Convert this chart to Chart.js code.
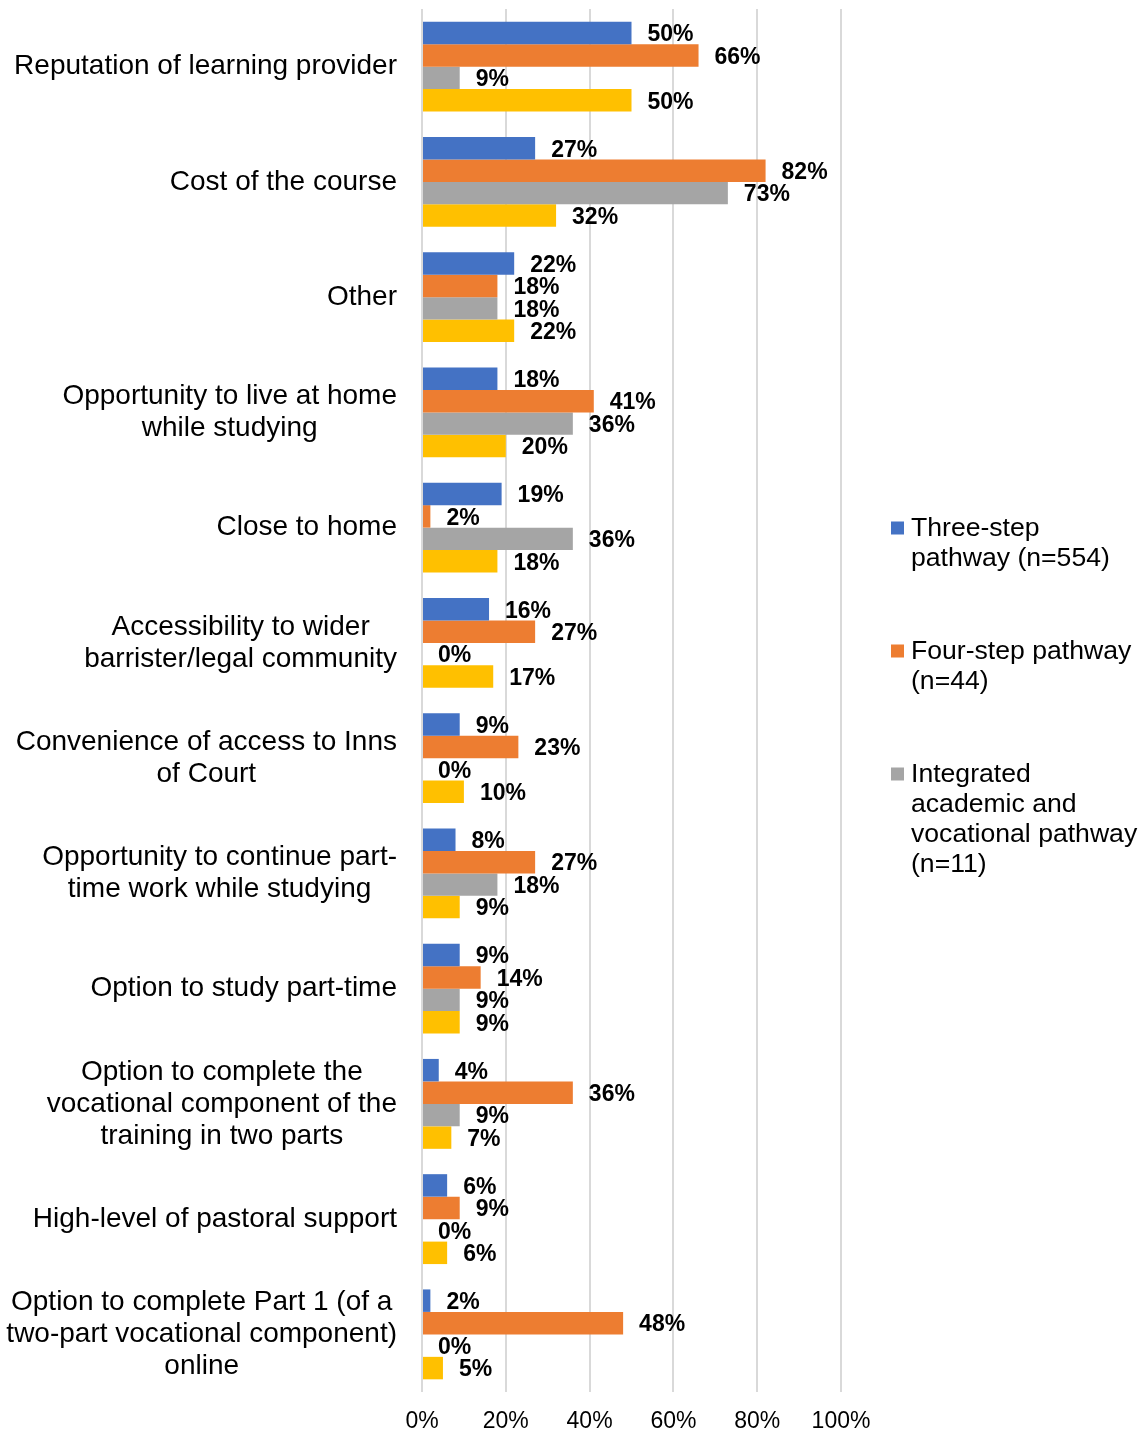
<!DOCTYPE html>
<html>
<head>
<meta charset="utf-8">
<script src="https://cdn.jsdelivr.net/npm/chart.js@4.4.1/dist/chart.umd.min.js"></script>
<style>
  html, body { margin: 0; padding: 0; background: #fff; }
  #wrap { width: 1141px; height: 1432px; position: relative; }
</style>
</head>
<body>
<div id="wrap"><canvas id="chart"></canvas></div>
<script>
const categories = [
    ['Reputation of learning provider'],
    ['Cost of the course'],
    ['Other'],
    ['Opportunity to live at home', 'while studying'],
    ['Close to home'],
    ['Accessibility to wider', 'barrister/legal community'],
    ['Convenience of access to Inns', 'of Court'],
    ['Opportunity to continue part-', 'time work while studying'],
    ['Option to study part-time'],
    ['Option to complete the', 'vocational component of the', 'training in two parts'],
    ['High-level of pastoral support'],
    ['Option to complete Part 1 (of a', 'two-part vocational component)', 'online']
];

const threeStep  = [50, 27, 22, 18, 19, 16, 9, 8, 9, 4, 6, 2];
const fourStep   = [66, 82, 18, 41, 2, 27, 23, 27, 14, 36, 9, 48];
const integrated = [9, 73, 18, 36, 36, 0, 0, 18, 9, 9, 0, 0];
const total      = [50, 32, 22, 20, 18, 17, 10, 9, 9, 7, 6, 5];

const seriesNames = [
    ['Three-step', 'pathway (n=554)'],
    ['Four-step pathway', '(n=44)'],
    ['Integrated', 'academic and', 'vocational pathway', '(n=11)'],
    ['Total']
];
const seriesColors = ['#4472C4', '#ED7D31', '#A5A5A5', '#FFC000'];
const inLegend = [true, true, true, false];

const xTicks = [0, 20, 40, 60, 80, 100];

const FONT = '"Liberation Sans", Arial, sans-serif';

// category labels: block right-aligned against the axis, lines centred within block
const categoryLabels = {
    id: 'categoryLabels',
    afterDraw(chart) {
        const ctx = chart.ctx;
        const y = chart.scales.y;
        const right = chart.chartArea.left - 25;
        const lh = 32;
        ctx.save();
        ctx.font = '28px ' + FONT;
        ctx.fillStyle = '#000';
        ctx.textAlign = 'center';
        ctx.textBaseline = 'middle';
        categories.forEach((lines, i) => {
            const w = Math.max(...lines.map(l => ctx.measureText(l).width));
            const cx = right - w / 2;
            const cy = y.getPixelForValue(i);
            const top = cy - (lines.length - 1) * lh / 2;
            lines.forEach((l, k) => ctx.fillText(l, cx, top + k * lh));
        });
        ctx.restore();
    }
};

// bold value labels at bar ends
const valueLabels = {
    id: 'valueLabels',
    afterDatasetsDraw(chart) {
        const ctx = chart.ctx;
        ctx.save();
        ctx.font = 'bold 23px ' + FONT;
        ctx.fillStyle = '#000';
        ctx.textAlign = 'left';
        ctx.textBaseline = 'middle';
        chart.data.datasets.forEach((ds, di) => {
            chart.getDatasetMeta(di).data.forEach((bar, i) => {
                ctx.fillText(ds.data[i] + '%', bar.x + 16, bar.y + 2);
            });
        });
        ctx.restore();
    }
};

// legend with wrapped names at the right
const sideLegend = {
    id: 'sideLegend',
    afterDraw(chart) {
        const ctx = chart.ctx;
        const area = chart.chartArea;
        const lh = 30, gap = 63;
        const x = 891;
        let y = (area.top + area.bottom) / 2 - 172;
        ctx.save();
        ctx.font = '26.6px ' + FONT;
        ctx.textAlign = 'left';
        ctx.textBaseline = 'middle';
        chart.data.datasets.forEach((ds, i) => {
            if (!inLegend[i]) return;
            ctx.fillStyle = ds.backgroundColor;
            ctx.fillRect(x, y - 7, 13, 13);
            ctx.fillStyle = '#000';
            seriesNames[i].forEach((l, k) => ctx.fillText(l, x + 20, y + k * lh));
            y += seriesNames[i].length * lh + gap;
        });
        ctx.restore();
    }
};

const datasets = [threeStep, fourStep, integrated, total].map((d, i) => ({
    label: seriesNames[i].join(' '),
    data: d,
    backgroundColor: seriesColors[i],
    borderWidth: 0,
    barPercentage: 1,
    categoryPercentage: 0.78
}));

new Chart(document.getElementById('chart'), {
    type: 'bar',
    data: {
        labels: categories.map(c => c.join(' ')),
        datasets: datasets
    },
    options: {
        indexAxis: 'y',
        responsive: true,
        maintainAspectRatio: false,
        animation: false,
        layout: { padding: { top: 9, right: 300, bottom: 0, left: 0 } },
        scales: {
            x: {
                min: 0,
                max: 100,
                afterBuildTicks: s => { s.ticks = xTicks.map(v => ({ value: v })); },
                afterFit: s => { s.height = 40; },
                grid: { color: '#d9d9d9', lineWidth: 2, drawTicks: false },
                border: { display: false },
                ticks: {
                    padding: 16,
                    color: '#000',
                    font: { family: FONT, size: 23 },
                    callback: v => v + '%'
                }
            },
            y: {
                afterFit: s => { s.width = 422; },
                grid: { display: false },
                border: { display: false },
                ticks: { display: false }
            }
        },
        plugins: {
            legend: { display: false },
            tooltip: { enabled: false }
        }
    },
    plugins: [categoryLabels, valueLabels, sideLegend]
});
</script>
</body>
</html>
